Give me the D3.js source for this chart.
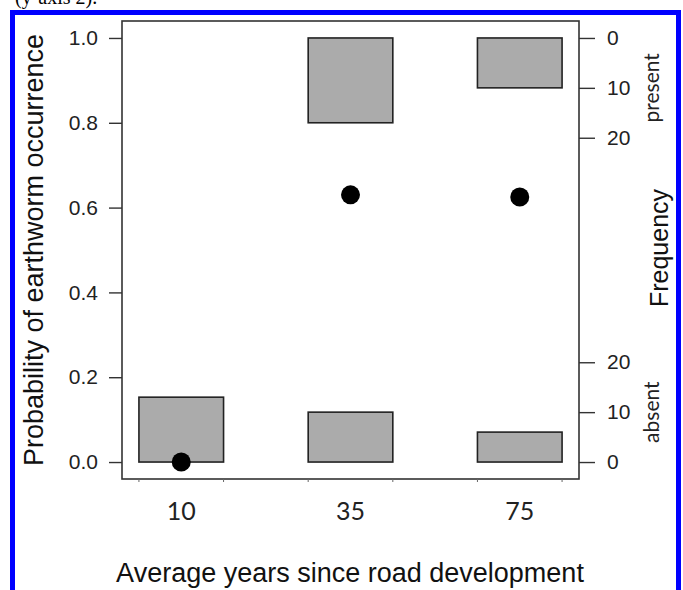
<!DOCTYPE html>
<html>
<head>
<meta charset="utf-8">
<script src="https://cdn.jsdelivr.net/npm/d3@7"></script>
<style>
  body { margin: 0; background: #fff; }
  svg { display: block; }
</style>
</head>
<body>
<div id="app"></div>
<script>
// data
const years = ['10', '35', '75'];
const presentCounts = [0, 17, 10];
const absentCounts = [13, 10, 6];
const probability = [0, 0.63, 0.625];
const probTicks = [0, 0.2, 0.4, 0.6, 0.8, 1.0];
const freqTicks = [0, 10, 20];

const width = 683, height = 590;
const box = {left: 122, right: 579, top: 21, bottom: 479};

const svg = d3.select('#app').append('svg')
  .attr('width', width)
  .attr('height', height);

// category index 1..3, R style 4% padding around 0.75..3.25
const x = d3.scaleLinear().domain([0.65, 3.35]).range([box.left, box.right]);
const y = d3.scaleLinear().domain([-0.04, 1.04]).range([box.bottom, box.top]);

// histogram bars: tallest bar takes 1/5 of the probability axis
const maxCount = d3.max(presentCounts.concat(absentCounts));
const hist = d3.scaleLinear().domain([0, maxCount]).range([0, 0.2]);
const halfW = 0.25;

const rows = years.map((yr, i) => ({
  i: i + 1, yr, present: presentCounts[i], absent: absentCounts[i], p: probability[i]
}));

// caption fragment cut off at the top
svg.append('text')
  .attr('x', 15).attr('y', 4)
  .style('font-family', '"Liberation Serif", serif')
  .style('font-size', '20px')
  .text('(y-axis 2).');

// blue frame
svg.append('rect')
  .attr('x', 12.5).attr('y', 12.5)
  .attr('width', 666).attr('height', 620)
  .attr('fill', 'none')
  .attr('stroke', '#0000ff')
  .attr('stroke-width', 5);

// present bars hang from 1, absent bars stand on 0
svg.selectAll('rect.pres')
  .data(rows.filter(d => d.present > 0)).enter()
  .append('rect').classed('pres', true)
  .attr('x', d => x(d.i - halfW))
  .attr('width', d => x(d.i + halfW) - x(d.i - halfW))
  .attr('y', y(1))
  .attr('height', d => y(1 - hist(d.present)) - y(1));

svg.selectAll('rect.abs')
  .data(rows.filter(d => d.absent > 0)).enter()
  .append('rect').classed('abs', true)
  .attr('x', d => x(d.i - halfW))
  .attr('width', d => x(d.i + halfW) - x(d.i - halfW))
  .attr('y', d => y(hist(d.absent)))
  .attr('height', d => y(0) - y(hist(d.absent)));

svg.selectAll('rect.pres, rect.abs')
  .attr('fill', '#ababab')
  .attr('stroke', '#222')
  .attr('stroke-width', 1.6);

svg.selectAll('circle.pt')
  .data(rows).enter()
  .append('circle').classed('pt', true)
  .attr('cx', d => x(d.i))
  .attr('cy', d => y(d.p))
  .attr('r', 9.5)
  .attr('fill', '#000');

// plot box
svg.append('rect')
  .attr('x', box.left).attr('y', box.top)
  .attr('width', box.right - box.left)
  .attr('height', box.bottom - box.top)
  .attr('fill', 'none')
  .attr('stroke', '#333')
  .attr('stroke-width', 1.6);

const sans = '"Liberation Sans", Arial, sans-serif';
const cal = 'Lato, "Open Sans", sans-serif';

// left axis
const left = svg.append('g')
  .attr('transform', `translate(${box.left},0)`)
  .call(d3.axisLeft(y).tickValues(probTicks).tickFormat(d3.format('.1f'))
    .tickSize(13).tickPadding(11));
left.select('.domain').remove();
left.selectAll('line').attr('stroke', '#333').attr('stroke-width', 1.4);
left.selectAll('text').style('font-family', sans).style('font-size', '21px').attr('fill', '#222');

// right axes, counts measured in from the top and bottom
const presScale = d3.scaleLinear().domain([0, maxCount])
  .range([y(1), y(1 - hist(maxCount))]);
const absScale = d3.scaleLinear().domain([0, maxCount])
  .range([y(0), y(hist(maxCount))]);

[presScale, absScale].forEach(s => {
  const g = svg.append('g')
    .attr('transform', `translate(${box.right},0)`)
    .call(d3.axisRight(s).tickValues(freqTicks).tickSize(16).tickPadding(12));
  g.select('.domain').remove();
  g.selectAll('line').attr('stroke', '#333').attr('stroke-width', 1.4);
  g.selectAll('text').style('font-family', sans).style('font-size', '21px').attr('fill', '#222');
});

// bottom axis: tiny ticks at bar edges, labels at centres
const edges = [];
rows.forEach(d => { edges.push(d.i - halfW, d.i + halfW); });
svg.selectAll('line.xt')
  .data(edges).enter()
  .append('line').classed('xt', true)
  .attr('x1', d => x(d)).attr('x2', d => x(d))
  .attr('y1', box.bottom).attr('y2', box.bottom + 3)
  .attr('stroke', '#666').attr('stroke-width', 1);

svg.selectAll('text.xl')
  .data(rows).enter()
  .append('text').classed('xl', true)
  .attr('x', d => x(d.i))
  .attr('y', 520)
  .attr('text-anchor', 'middle')
  .style('font-family', cal)
  .style('font-size', '25px')
  .attr('fill', '#222')
  .text(d => d.yr);

// titles
svg.append('text')
  .attr('x', 350).attr('y', 582)
  .attr('text-anchor', 'middle')
  .style('font-family', sans).style('font-size', '27px').attr('fill', '#111')
  .text('Average years since road development');

svg.append('text')
  .attr('transform', 'translate(43,250) rotate(-90)')
  .attr('text-anchor', 'middle')
  .style('font-family', sans).style('font-size', '27px').attr('fill', '#111')
  .text('Probability of earthworm occurrence');

svg.append('text')
  .attr('transform', 'translate(668,248) rotate(-90)')
  .attr('text-anchor', 'middle')
  .style('font-family', sans).style('font-size', '25px').attr('fill', '#111')
  .text('Frequency');

svg.append('text')
  .attr('transform', `translate(659,${presScale(10)}) rotate(-90)`)
  .attr('text-anchor', 'middle')
  .style('font-family', cal).style('font-size', '21px').attr('fill', '#222')
  .text('present');

svg.append('text')
  .attr('transform', `translate(659,${absScale(10)}) rotate(-90)`)
  .attr('text-anchor', 'middle')
  .style('font-family', cal).style('font-size', '21px').attr('fill', '#222')
  .text('absent');
</script>
</body>
</html>
